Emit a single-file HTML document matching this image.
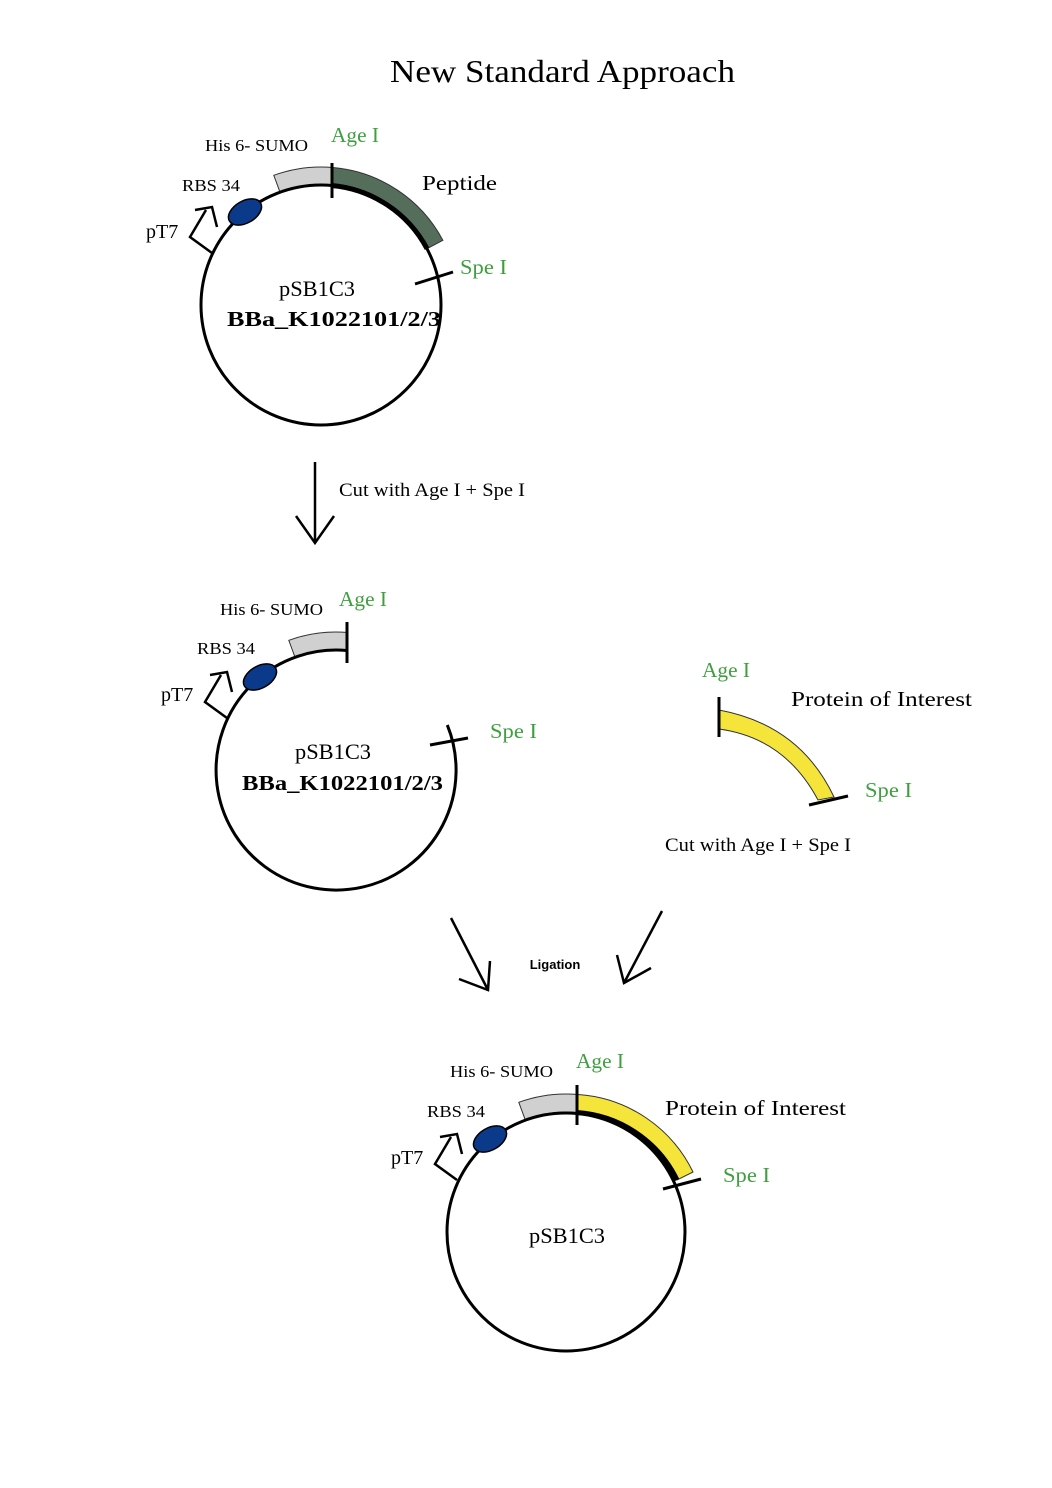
<!DOCTYPE html>
<html><head><meta charset="utf-8"><style>
html,body{margin:0;padding:0;background:#fff}
svg{display:block}
text{font-family:"Liberation Serif",serif}
.g{fill:#3f9f3f}
</style></head><body>
<svg width="1052" height="1488" viewBox="0 0 1052 1488" xmlns="http://www.w3.org/2000/svg">
<rect width="1052" height="1488" fill="#fff"/>
<text x="390" y="82" font-size="32" textLength="345" lengthAdjust="spacingAndGlyphs">New Standard Approach</text>

<!-- Plasmid 1 -->
<g>
<path d="M273.8,175.3 A138,138 0 0 1 333,167.5 L331.5,185.5 A120,120 0 0 0 280,192.2 Z" fill="#d0d0d0" stroke="#333" stroke-width="1"/>
<path d="M333,167.5 A138,138 0 0 1 442.9,240.3 L427,248.7 A120,120 0 0 0 331.5,185.5 Z" fill="#556e5c" stroke="#333" stroke-width="1"/>
<circle cx="321" cy="305" r="120" fill="none" stroke="#000" stroke-width="3"/>
<path d="M331.5,185.5 A120,120 0 0 1 427,248.7" fill="none" stroke="#000" stroke-width="5"/>
<line x1="332" y1="163" x2="332" y2="198" stroke="#000" stroke-width="3"/>
<line x1="415" y1="284" x2="453" y2="272" stroke="#000" stroke-width="3"/>
<ellipse cx="245" cy="212" rx="18" ry="11" transform="rotate(-30 245 212)" fill="#0c3a8a" stroke="#000" stroke-width="1.5"/>
<polyline points="212,253 190,237 206,210" fill="none" stroke="#000" stroke-width="2.5"/>
<polyline points="195,210 212,207 217,227" fill="none" stroke="#000" stroke-width="2.5"/>
<text x="205" y="151" font-size="17" textLength="103" lengthAdjust="spacingAndGlyphs">His 6- SUMO</text>
<text x="331" y="142" font-size="21" class="g" textLength="48" lengthAdjust="spacingAndGlyphs">Age I</text>
<text x="422" y="190" font-size="21" textLength="75" lengthAdjust="spacingAndGlyphs">Peptide</text>
<text x="182" y="191" font-size="17" textLength="58" lengthAdjust="spacingAndGlyphs">RBS 34</text>
<text x="146" y="238" font-size="20">pT7</text>
<text x="460" y="274" font-size="21" class="g" textLength="47" lengthAdjust="spacingAndGlyphs">Spe I</text>
<text x="279" y="296" font-size="22" textLength="76" lengthAdjust="spacingAndGlyphs">pSB1C3</text>
<text x="227" y="326" font-size="21" font-weight="bold" textLength="214" lengthAdjust="spacingAndGlyphs">BBa_K1022101/2/3</text>
</g>

<!-- Arrow 1 -->
<line x1="315" y1="462" x2="315" y2="543" stroke="#000" stroke-width="2.5"/>
<polyline points="296,516 315,543 334,516" fill="none" stroke="#000" stroke-width="2.5"/>
<text x="339" y="496" font-size="19" textLength="186" lengthAdjust="spacingAndGlyphs">Cut with Age I + Spe I</text>

<!-- Plasmid 2 -->
<g transform="translate(15,465)">
<path d="M273.8,175.3 A138,138 0 0 1 333,167.5 L331.5,185.5 A120,120 0 0 0 280,192.2 Z" fill="#d0d0d0" stroke="#333" stroke-width="1"/>
<path d="M432.3,260 A120,120 0 1 1 331.5,185.5" fill="none" stroke="#000" stroke-width="3"/>
<line x1="332" y1="157" x2="332" y2="198" stroke="#000" stroke-width="3"/>
<line x1="415" y1="280" x2="453" y2="273" stroke="#000" stroke-width="3"/>
<ellipse cx="245" cy="212" rx="18" ry="11" transform="rotate(-30 245 212)" fill="#0c3a8a" stroke="#000" stroke-width="1.5"/>
<polyline points="212,253 190,237 206,210" fill="none" stroke="#000" stroke-width="2.5"/>
<polyline points="195,210 212,207 217,227" fill="none" stroke="#000" stroke-width="2.5"/>
<text x="205" y="150" font-size="17" textLength="103" lengthAdjust="spacingAndGlyphs">His 6- SUMO</text>
<text x="324" y="141" font-size="21" class="g" textLength="48" lengthAdjust="spacingAndGlyphs">Age I</text>
<text x="182" y="189" font-size="17" textLength="58" lengthAdjust="spacingAndGlyphs">RBS 34</text>
<text x="146" y="236" font-size="20">pT7</text>
<text x="475" y="273" font-size="21" class="g" textLength="47" lengthAdjust="spacingAndGlyphs">Spe I</text>
<text x="280" y="294" font-size="22" textLength="76" lengthAdjust="spacingAndGlyphs">pSB1C3</text>
<text x="227" y="325" font-size="21" font-weight="bold" textLength="201" lengthAdjust="spacingAndGlyphs">BBa_K1022101/2/3</text>
</g>

<!-- Fragment -->
<path d="M719,710 Q800,725 834,797 L818,800 Q785,738 719,729 Z" fill="#f5e43a" stroke="#333" stroke-width="1"/>
<line x1="719" y1="697" x2="719" y2="737" stroke="#000" stroke-width="3"/>
<line x1="809" y1="805" x2="848" y2="796" stroke="#000" stroke-width="3"/>
<text x="702" y="677" font-size="21" class="g" textLength="48" lengthAdjust="spacingAndGlyphs">Age I</text>
<text x="791" y="706" font-size="21" textLength="181" lengthAdjust="spacingAndGlyphs">Protein of Interest</text>
<text x="865" y="797" font-size="21" class="g" textLength="47" lengthAdjust="spacingAndGlyphs">Spe I</text>
<text x="665" y="851" font-size="19" textLength="186" lengthAdjust="spacingAndGlyphs">Cut with Age I + Spe I</text>

<!-- Ligation arrows -->
<line x1="451" y1="918" x2="488" y2="990" stroke="#000" stroke-width="2.5"/>
<polyline points="459,979 488,990 490,961" fill="none" stroke="#000" stroke-width="2.5"/>
<line x1="662" y1="911" x2="624" y2="983" stroke="#000" stroke-width="2.5"/>
<polyline points="617,955 624,983 651,968" fill="none" stroke="#000" stroke-width="2.5"/>
<text x="555" y="969" font-size="13" font-weight="bold" text-anchor="middle" style="font-family:'Liberation Sans',sans-serif">Ligation</text>

<!-- Plasmid 3 -->
<g transform="translate(245,927)">
<path d="M273.8,175.3 A138,138 0 0 1 333,167.5 L331.5,185.5 A120,120 0 0 0 280,192.2 Z" fill="#d0d0d0" stroke="#333" stroke-width="1"/>
<path d="M333,167.5 A138,138 0 0 1 448,245 L432,253 A120,120 0 0 0 331.5,185.5 Z" fill="#f5e43a" stroke="#333" stroke-width="1"/>
<circle cx="321" cy="305" r="119" fill="none" stroke="#000" stroke-width="3"/>
<path d="M331.5,185.5 A120,120 0 0 1 432,253" fill="none" stroke="#000" stroke-width="5"/>
<line x1="332" y1="158" x2="332" y2="198" stroke="#000" stroke-width="3"/>
<line x1="418" y1="262" x2="456" y2="252" stroke="#000" stroke-width="3"/>
<ellipse cx="245" cy="212" rx="18" ry="11" transform="rotate(-30 245 212)" fill="#0c3a8a" stroke="#000" stroke-width="1.5"/>
<polyline points="212,253 190,237 206,210" fill="none" stroke="#000" stroke-width="2.5"/>
<polyline points="195,210 212,207 217,227" fill="none" stroke="#000" stroke-width="2.5"/>
<text x="205" y="150" font-size="17" textLength="103" lengthAdjust="spacingAndGlyphs">His 6- SUMO</text>
<text x="331" y="141" font-size="21" class="g" textLength="48" lengthAdjust="spacingAndGlyphs">Age I</text>
<text x="420" y="188" font-size="21" textLength="181" lengthAdjust="spacingAndGlyphs">Protein of Interest</text>
<text x="182" y="190" font-size="17" textLength="58" lengthAdjust="spacingAndGlyphs">RBS 34</text>
<text x="146" y="237" font-size="20">pT7</text>
<text x="478" y="255" font-size="21" class="g" textLength="47" lengthAdjust="spacingAndGlyphs">Spe I</text>
<text x="284" y="316" font-size="22" textLength="76" lengthAdjust="spacingAndGlyphs">pSB1C3</text>
</g>
</svg>
</body></html>
